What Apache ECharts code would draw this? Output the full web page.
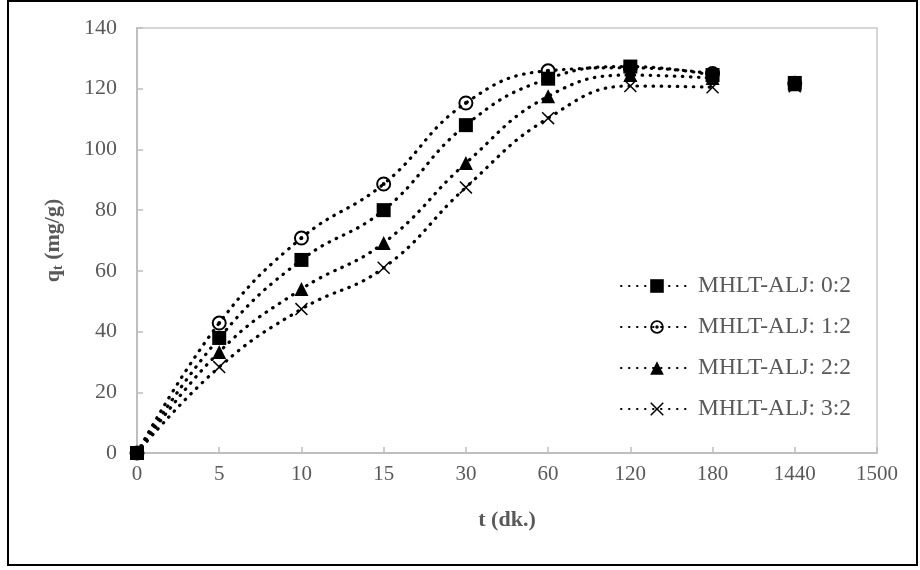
<!DOCTYPE html>
<html>
<head>
<meta charset="utf-8">
<script src="https://cdn.jsdelivr.net/npm/echarts@6/dist/echarts.min.js"></script>
<style>
	html, body { margin: 0; padding: 0; background: #fff; }
	#chart { width: 920px; height: 570px; }
</style>
</head>
<body>
<div id="chart"></div>
<script>
// x categories (Excel line chart, equal spacing)
var times = ['0', '5', '10', '15', '30', '60', '120', '180', '1440', '1500'];
// q_t values (mg/g), one per time up to 1440
var q02 = [0, 37.9, 63.6, 80, 108, 123.3, 127.3, 124.5, 121.9];
var q12 = [0, 42.8, 70.8, 88.6, 115.3, 125.9, 126.9, 125, 121.8];
var q22 = [0, 33.3, 54, 69.2, 95.5, 117.5, 124.5, 123.5, 121.5];
var q32 = [0, 28.3, 47.4, 61, 87.5, 110.3, 120.9, 120.5, 120.8];
var names = ['MHLT-ALJ: 0:2', 'MHLT-ALJ: 1:2', 'MHLT-ALJ: 2:2', 'MHLT-ALJ: 3:2'];

var ringPath = 'path://M0,10A10,10,0,1,1,20,10A10,10,0,1,1,0,10Z' +
	'M2.6,10A7.4,7.4,0,1,0,17.4,10A7.4,7.4,0,1,0,2.6,10Z' +
	'M7.4,10A2.6,2.6,0,1,1,12.6,10A2.6,2.6,0,1,1,7.4,10Z';
var crossPath = 'path://M0,1.6L1.6,0L10,8.4L18.4,0L20,1.6L11.6,10L20,18.4L18.4,20L10,11.6L1.6,20L0,18.4L8.4,10Z';

var serif = "'Liberation Serif', 'Times New Roman', serif";
var gray = '#595959';

var defs = [
	{ name: names[0], data: q02, symbol: 'rect', size: 14, z: 5 },
	{ name: names[1], data: q12, symbol: ringPath, size: 15, z: 3 },
	{ name: names[2], data: q22, symbol: 'triangle', size: 14, z: 3 },
	{ name: names[3], data: q32, symbol: crossPath, size: 13, z: 3 }
];

var series = [];
// dotted smoothed lines, 0 .. 180
defs.forEach(function(d) {
	series.push({
		name: d.name,
		type: 'line',
		data: d.data.slice(0, 8),
		smooth: 0.45,
		clip: false,
		z: d.z,
		symbol: d.symbol,
		symbolSize: d.size,
		symbolKeepAspect: true,
		showAllSymbol: true,
		itemStyle: { color: '#000', borderWidth: 0 },
		lineStyle: { color: '#000', width: 3.2, type: [0.5, 7.5], cap: 'round' },
		emphasis: { disabled: true }
	});
});
// 1440 point: marker only, no connecting line
defs.forEach(function(d) {
	var pts = d.data.map(function(v, i) { return i === 8 ? v : null; });
	series.push({
		name: d.name,
		type: 'line',
		data: pts,
		clip: false,
		z: d.z,
		symbol: d.symbol,
		symbolSize: d.size,
		symbolKeepAspect: true,
		showAllSymbol: true,
		itemStyle: { color: '#000', borderWidth: 0 },
		lineStyle: { width: 0, opacity: 0 },
		emphasis: { disabled: true }
	});
});

var myChart = echarts.init(document.getElementById('chart'));
myChart.setOption({
	animation: false,
	graphic: [{
		type: 'rect',
		shape: { x: 8, y: 1, width: 909, height: 564 },
		style: { fill: null, stroke: '#000', lineWidth: 2 },
		silent: true
	}],
	grid: {
		left: 137,
		right: 43,
		top: 28,
		bottom: 117,
		show: true,
		borderColor: '#c9c9c9',
		borderWidth: 1.5
	},
	legend: {
		data: names,
		orient: 'vertical',
		left: 615,
		top: 269,
		itemWidth: 72,
		itemHeight: 17,
		itemGap: 17,
		itemStyle: { borderWidth: 0 },
		textStyle: { fontFamily: serif, fontSize: 23.5, color: gray }
	},
	xAxis: {
		type: 'category',
		data: times,
		boundaryGap: false,
		name: 't (dk.)',
		nameLocation: 'middle',
		nameGap: 56,
		nameMoveOverlap: false,
		nameTextStyle: { fontFamily: serif, fontSize: 22, fontWeight: 'bold', color: gray },
		axisLine: { lineStyle: { color: '#bfbfbf', width: 2 } },
		axisTick: { inside: true, length: 6, alignWithLabel: true, lineStyle: { color: '#bfbfbf', width: 1.5 } },
		axisLabel: { fontFamily: serif, fontSize: 21, color: gray, margin: 11, interval: 0 },
		splitLine: { show: false }
	},
	yAxis: {
		type: 'value',
		min: 0,
		max: 140,
		interval: 20,
		name: '{b|q}{s|t}{b| (mg/g)}',
		nameLocation: 'middle',
		nameRotate: 90,
		nameGap: 72,
		nameMoveOverlap: false,
		nameTextStyle: {
			rich: {
				b: { fontFamily: serif, fontSize: 22, fontWeight: 'bold', color: gray },
				s: { fontFamily: serif, fontSize: 14, fontWeight: 'bold', color: gray, padding: [10, 0, 0, 0] }
			}
		},
		axisLine: { show: true, lineStyle: { color: '#bfbfbf', width: 2 } },
		axisTick: { show: true, inside: true, length: 6, lineStyle: { color: '#bfbfbf', width: 1.5 } },
		axisLabel: { fontFamily: serif, fontSize: 22, color: gray, margin: 20 },
		splitLine: { show: false }
	},
	series: series
});
</script>
</body>
</html>
